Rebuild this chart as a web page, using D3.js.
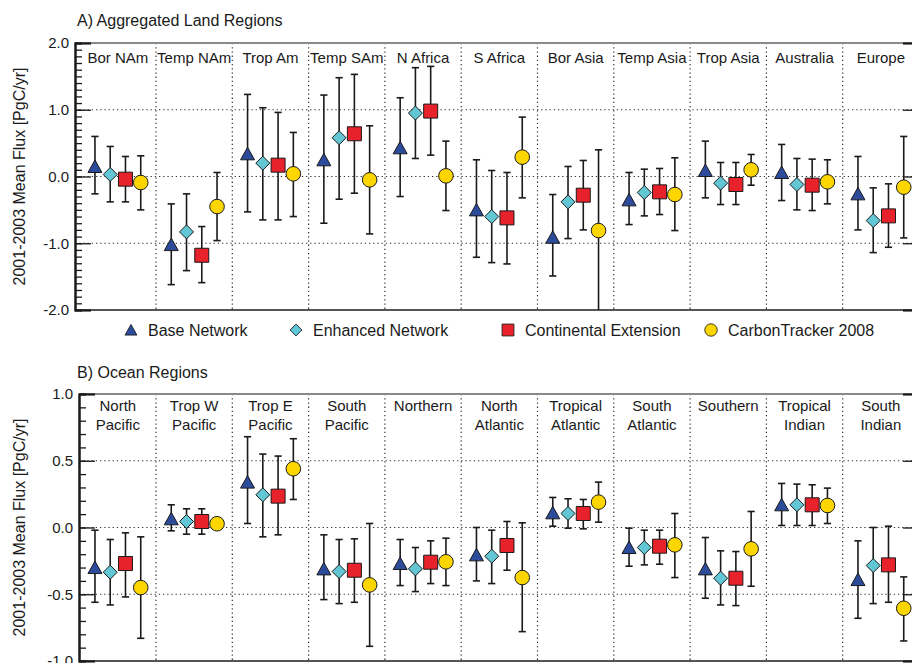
<!DOCTYPE html>
<html>
<head>
<meta charset="utf-8">
<script src="https://cdn.jsdelivr.net/npm/d3@7"></script>
<style>
  body { margin: 0; background: #fff; }
  svg { display: block; font-family: "Liberation Sans", Arial, Helvetica, sans-serif; }
</style>
</head>
<body>
<svg id="chart" width="912" height="663"></svg>
<script>
// series
const seriesNames = ["Base Network", "Enhanced Network", "Continental Extension", "CarbonTracker 2008"];
const seriesShapes = ["triangle", "diamond", "square", "circle"];
const seriesColors = ["#2d4b9b", "#62c6d4", "#e8222a", "#fdd600"];

// A) land regions, each entry is [mean, low, high]
const landRegions = ["Bor NAm", "Temp NAm", "Trop Am", "Temp SAm", "N Africa", "S Africa",
                     "Bor Asia", "Temp Asia", "Trop Asia", "Australia", "Europe"];
const landBase = [[0.15, -0.26, 0.60], [-1.02, -1.62, -0.41], [0.34, -0.53, 1.23], [0.25, -0.70, 1.22],
                  [0.43, -0.30, 1.18], [-0.50, -1.21, 0.25], [-0.91, -1.49, -0.27], [-0.35, -0.72, 0.06],
                  [0.09, -0.32, 0.53], [0.06, -0.36, 0.48], [-0.26, -0.80, 0.30]];
const landEnhanced = [[0.03, -0.38, 0.45], [-0.83, -1.41, -0.26], [0.20, -0.65, 1.03], [0.58, -0.34, 1.48],
                      [0.95, 0.27, 1.63], [-0.60, -1.29, 0.09], [-0.38, -0.93, 0.15], [-0.24, -0.59, 0.11],
                      [-0.10, -0.42, 0.21], [-0.12, -0.50, 0.27], [-0.66, -1.14, -0.17]];
const landContinental = [[-0.04, -0.38, 0.30], [-1.18, -1.59, -0.75], [0.17, -0.65, 0.96], [0.64, -0.25, 1.53],
                         [0.98, 0.32, 1.65], [-0.62, -1.31, 0.06], [-0.28, -0.80, 0.24], [-0.23, -0.57, 0.12],
                         [-0.12, -0.42, 0.21], [-0.13, -0.51, 0.26], [-0.59, -1.06, -0.11]];
const landCT2008 = [[-0.09, -0.50, 0.31], [-0.45, -0.96, 0.06], [0.04, -0.60, 0.66], [-0.05, -0.86, 0.76],
                    [0.01, -0.51, 0.53], [0.29, -0.32, 0.89], [-0.81, -2.05, 0.40], [-0.27, -0.81, 0.28],
                    [0.10, -0.13, 0.33], [-0.08, -0.41, 0.25], [-0.16, -0.92, 0.60]];
const landTicks = [2.0, 1.0, 0.0, -1.0, -2.0];

// B) ocean regions
const oceanRegions = ["North\nPacific", "Trop W\nPacific", "Trop E\nPacific", "South\nPacific", "Northern",
                      "North\nAtlantic", "Tropical\nAtlantic", "South\nAtlantic", "Southern",
                      "Tropical\nIndian", "South\nIndian"];
const oceanBase = [[-0.30, -0.56, -0.02], [0.065, -0.025, 0.17], [0.34, 0.03, 0.68], [-0.31, -0.54, -0.055],
                   [-0.27, -0.435, -0.09], [-0.205, -0.40, 0.00], [0.11, 0.01, 0.225], [-0.15, -0.29, -0.005],
                   [-0.31, -0.53, -0.075], [0.17, 0.015, 0.33], [-0.39, -0.68, -0.10]];
const oceanEnhanced = [[-0.335, -0.58, -0.09], [0.045, -0.05, 0.14], [0.245, -0.07, 0.55], [-0.33, -0.57, -0.09],
                       [-0.31, -0.48, -0.15], [-0.215, -0.42, -0.02], [0.105, -0.005, 0.215], [-0.15, -0.28, -0.02],
                       [-0.38, -0.58, -0.175], [0.17, 0.015, 0.325], [-0.285, -0.57, 0.00]];
const oceanContinental = [[-0.27, -0.52, -0.04], [0.045, -0.05, 0.14], [0.235, -0.055, 0.535], [-0.32, -0.56, -0.085],
                          [-0.26, -0.42, -0.10], [-0.135, -0.32, 0.045], [0.105, -0.01, 0.21], [-0.14, -0.275, -0.02],
                          [-0.38, -0.585, -0.18], [0.17, 0.015, 0.32], [-0.28, -0.56, 0.01]];
const oceanCT2008 = [[-0.45, -0.83, -0.07], [0.028, 0.00, 0.055], [0.44, 0.21, 0.665], [-0.43, -0.89, 0.03],
                     [-0.257, -0.435, -0.08], [-0.375, -0.78, 0.035], [0.19, 0.04, 0.34], [-0.13, -0.375, 0.105],
                     [-0.16, -0.44, 0.12], [0.165, 0.03, 0.295], [-0.605, -0.85, -0.37]];
const oceanTicks = [1.0, 0.5, 0.0, -0.5, -1.0];

const svg = d3.select("#chart");
const ink = "#1a1a1a";
const fmt = v => d3.format(".1f")(v).replace("\u2212", "-");

const panels = [
  { title: "A) Aggregated Land Regions", titleY: 26, top: 43, bottom: 310, axisX: 75,
    regions: landRegions, series: [landBase, landEnhanced, landContinental, landCT2008],
    ticks: landTicks, minorStep: 0.1, labelY: 63 },
  { title: "B) Ocean Regions", titleY: 378, top: 394, bottom: 661, axisX: 79,
    regions: oceanRegions, series: [oceanBase, oceanEnhanced, oceanContinental, oceanCT2008],
    ticks: oceanTicks, minorStep: 0.1, labelY: 411 }
];

const plotLeft = 79.7, plotRight = 919;

function symbolPath(shape) {
  if (shape === "triangle") return "M0,-6.5L7,6L-7,6Z";
  if (shape === "diamond") return "M0,-7L7,0L0,7L-7,0Z";
  if (shape === "square") return "M-7,-7H7V7H-7Z";
  return d3.symbol(d3.symbolCircle, Math.PI * 7.3 * 7.3)();
}

panels.forEach((p, pi) => {
  const g = svg.append("g");
  const yMax = d3.max(p.ticks), yMin = d3.min(p.ticks);
  const y = d3.scaleLinear().domain([yMin, yMax]).range([p.bottom, p.top]);
  const x = d3.scaleBand().domain(p.regions).range([plotLeft, plotRight]).padding(0);
  const xs = d3.scalePoint().domain(seriesNames).range([0, x.bandwidth()]).padding(1);

  // title
  g.append("text").attr("x", 77).attr("y", p.titleY)
    .attr("font-size", 16).attr("fill", ink).text(p.title);

  // y axis label
  g.append("text")
    .attr("transform", `translate(25,${(p.top + p.bottom) / 2}) rotate(-90)`)
    .attr("text-anchor", "middle").attr("font-size", 16).attr("fill", ink)
    .text("2001-2003 Mean Flux [PgC/yr]");

  // grid: horizontal dotted at inner major ticks, vertical between regions
  g.append("g").selectAll("line")
    .data(p.ticks.filter(t => t !== yMax && t !== yMin))
    .join("line")
    .attr("x1", p.axisX).attr("x2", plotRight)
    .attr("y1", d => y(d)).attr("y2", d => y(d))
    .attr("stroke", "#333").attr("stroke-width", 1.2).attr("stroke-dasharray", "1.3,2.9");
  g.append("g").selectAll("line")
    .data(p.regions.slice(1))
    .join("line")
    .attr("x1", d => x(d)).attr("x2", d => x(d))
    .attr("y1", p.top).attr("y2", p.bottom)
    .attr("stroke", "#333").attr("stroke-width", 1.2).attr("stroke-dasharray", "1.3,2.9");

  // frame top / bottom
  g.append("line").attr("x1", p.axisX).attr("x2", plotRight).attr("y1", p.top).attr("y2", p.top)
    .attr("stroke", "#8a8a8a").attr("stroke-width", 2);
  g.append("line").attr("x1", p.axisX).attr("x2", plotRight).attr("y1", p.bottom).attr("y2", p.bottom)
    .attr("stroke", "#555").attr("stroke-width", 2);

  // axes
  const minor = d3.range(Math.round(yMin / p.minorStep), Math.round(yMax / p.minorStep) + 1)
    .map(i => +(i * p.minorStep).toFixed(2));
  const leftMinor = g.append("g").attr("transform", `translate(${p.axisX},0)`)
    .call(d3.axisLeft(y).tickValues(minor).tickSize(-7).tickFormat(""));
  const leftMajor = g.append("g").attr("transform", `translate(${p.axisX},0)`)
    .call(d3.axisLeft(y).tickValues(p.ticks).tickSize(-16).tickPadding(6).tickFormat(fmt));
  const rightMinor = g.append("g").attr("transform", `translate(${plotRight},0)`)
    .call(d3.axisRight(y).tickValues(minor).tickSize(-7).tickFormat(""));
  const rightMajor = g.append("g").attr("transform", `translate(${plotRight},0)`)
    .call(d3.axisRight(y).tickValues(p.ticks).tickSize(-16).tickFormat(""));
  [leftMinor, leftMajor, rightMinor, rightMajor].forEach(a => {
    a.selectAll("line").attr("stroke", ink).attr("stroke-width", 1.3);
    a.select(".domain").attr("stroke", ink).attr("stroke-width", 2);
  });
  leftMajor.selectAll("text").attr("font-size", 15).attr("fill", ink)
    .attr("font-family", "'Liberation Sans', Arial, sans-serif");

  // region labels
  g.append("g").selectAll("text")
    .data(p.regions)
    .join("text")
    .attr("x", d => x(d) + x.bandwidth() / 2)
    .attr("y", p.labelY)
    .attr("text-anchor", "middle").attr("font-size", 15).attr("fill", ink)
    .each(function (d) {
      d.split("\n").forEach((line, li) => {
        d3.select(this).append("tspan")
          .attr("x", x(d) + x.bandwidth() / 2)
          .attr("dy", li === 0 ? 0 : 18.5)
          .text(line);
      });
    });

  // clip for error bars
  const clipId = "clip" + pi;
  svg.append("clipPath").attr("id", clipId).append("rect")
    .attr("x", p.axisX).attr("y", p.top).attr("width", plotRight - p.axisX).attr("height", p.bottom - p.top);

  const marks = g.append("g").attr("clip-path", `url(#${clipId})`);
  p.series.forEach((data, si) => {
    const sName = seriesNames[si];
    const cx = (d, i) => x(p.regions[i]) + xs(sName);
    const sg = marks.append("g");
    sg.selectAll("line.bar").data(data).join("line").attr("class", "bar")
      .attr("x1", cx).attr("x2", cx)
      .attr("y1", d => y(d[1])).attr("y2", d => y(d[2]))
      .attr("stroke", ink).attr("stroke-width", 1.6);
    sg.selectAll("line.capLo").data(data).join("line").attr("class", "capLo")
      .attr("x1", (d, i) => cx(d, i) - 3.6).attr("x2", (d, i) => cx(d, i) + 3.6)
      .attr("y1", d => y(d[1])).attr("y2", d => y(d[1]))
      .attr("stroke", ink).attr("stroke-width", 1.6);
    sg.selectAll("line.capHi").data(data).join("line").attr("class", "capHi")
      .attr("x1", (d, i) => cx(d, i) - 3.6).attr("x2", (d, i) => cx(d, i) + 3.6)
      .attr("y1", d => y(d[2])).attr("y2", d => y(d[2]))
      .attr("stroke", ink).attr("stroke-width", 1.6);
    sg.selectAll("path").data(data).join("path")
      .attr("transform", (d, i) => `translate(${cx(d, i)},${y(d[0])})`)
      .attr("d", symbolPath(seriesShapes[si]))
      .attr("fill", seriesColors[si]).attr("stroke", ink).attr("stroke-width", 1);
  });
});

// legend
const legendX = [131, 296, 508, 711];
const legend = svg.append("g").attr("transform", "translate(0,330)");
seriesNames.forEach((name, i) => {
  const item = legend.append("g").attr("transform", `translate(${legendX[i]},0)`);
  item.append("path").attr("d", symbolPath(seriesShapes[i]))
    .attr("transform", "scale(0.85)")
    .attr("fill", seriesColors[i]).attr("stroke", ink).attr("stroke-width", 1);
  item.append("text").attr("x", 17).attr("y", 5.5)
    .attr("font-size", 16).attr("fill", ink).text(name);
});
</script>
</body>
</html>
